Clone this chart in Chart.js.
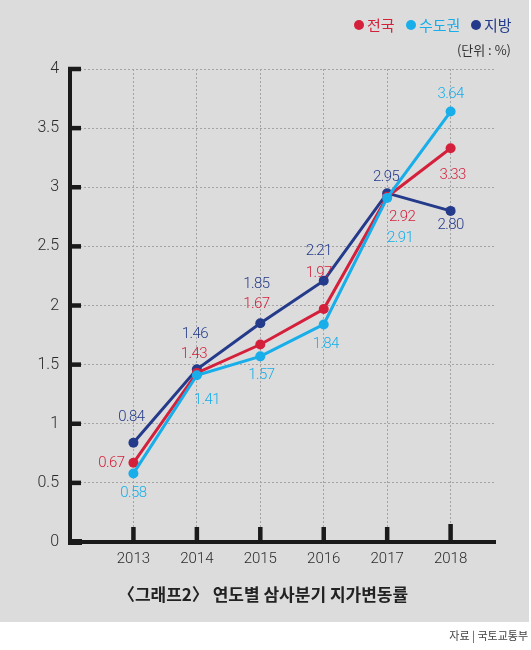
<!DOCTYPE html>
<html>
<head>
<meta charset="utf-8">
<script src="https://cdn.jsdelivr.net/npm/chart.js@4.4.0/dist/chart.umd.min.js"></script>
<style>
  html, body { margin: 0; padding: 0; background: #fff; }
  #wrap { width: 531px; height: 650px; }
</style>
</head>
<body>
<div id="wrap"><canvas id="landChart"></canvas></div>
<script>
// 연도별 삼사분기 지가변동률 (%)
var years = [2013, 2014, 2015, 2016, 2017, 2018];
var nationValues = [0.67, 1.43, 1.67, 1.97, 2.92, 3.33];   // 전국
var capitalValues = [0.58, 1.41, 1.57, 1.84, 2.91, 3.64];  // 수도권
var localValues = [0.84, 1.46, 1.85, 2.21, 2.95, 2.80];    // 지방
var yTicks = [0, 0.5, 1, 1.5, 2, 2.5, 3, 3.5, 4];

var chartTitle = '〈그래프2〉 연도별 삼사분기 지가변동률';
var unitText = '(단위 : %)';
var sourceText = '자료 | 국토교통부';

var RED = '#d5203b';
var SKY = '#17aeea';
var NAVY = '#243a8a';
var KR = '"Noto Sans CJK KR", "Noto Sans", sans-serif';

function toPoints(vals) {
	return vals.map(function(v, i){ return {x: years[i], y: v}; });
}

// grey panel, legend, title, source
var decorPlugin = {
	id: 'decor',
	beforeDraw: function(chart) {
		var ctx = chart.ctx;
		ctx.save();
		ctx.fillStyle = '#fff';
		ctx.fillRect(0, 0, chart.width, chart.height);
		ctx.fillStyle = '#dcdcdd';
		ctx.fillRect(0, 0, 529, 622);
		ctx.restore();
	},
	afterDraw: function(chart) {
		var ctx = chart.ctx;
		ctx.save();
		// legend
		var legendX = [359, 411, 476];
		ctx.font = '15px ' + KR;
		ctx.textBaseline = 'middle';
		ctx.textAlign = 'left';
		chart.data.datasets.forEach(function(ds, i){
			ctx.fillStyle = ds.borderColor;
			ctx.beginPath();
			ctx.arc(legendX[i], 25, 5, 0, Math.PI * 2);
			ctx.fill();
			ctx.fillText(ds.label, legendX[i] + 8, 25);
		});
		ctx.fillStyle = '#333';
		ctx.font = '13px ' + KR;
		ctx.textAlign = 'right';
		ctx.fillText(unitText, 511, 50);
		// title
		ctx.fillStyle = '#222';
		ctx.font = 'bold 17px ' + KR;
		ctx.textAlign = 'center';
		ctx.fillText(chartTitle, 263, 595);
		// source
		ctx.fillStyle = '#444';
		ctx.font = '11px ' + KR;
		ctx.textAlign = 'right';
		ctx.fillText(sourceText, 528, 636);
		ctx.restore();
	}
};

// inward tick marks on both axes
var tickPlugin = {
	id: 'inTicks',
	afterDraw: function(chart) {
		var ctx = chart.ctx;
		var xs = chart.scales.x, ys = chart.scales.y;
		var left = chart.chartArea.left, bottom = chart.chartArea.bottom;
		ctx.save();
		ctx.fillStyle = '#1a1a1a';
		yTicks.forEach(function(v){
			var y = ys.getPixelForValue(v);
			if (v === 0) ctx.fillRect(left - 2, y - 3, 14, 6);
			else ctx.fillRect(left - 2, y - 2.25, 13, 4.5);
		});
		years.forEach(function(yr, i){
			var x = xs.getPixelForValue(yr);
			var h = (i === years.length - 1) ? 18 : 15;
			ctx.fillRect(x - 2.25, bottom - h, 4.5, h);
		});
		ctx.restore();
	}
};

// value labels next to the points
var valueLabelPlugin = {
	id: 'valueLabels',
	afterDatasetsDraw: function(chart) {
		var ctx = chart.ctx;
		ctx.save();
		ctx.font = '300 15px Roboto';
		ctx.letterSpacing = '-0.6px';
		ctx.textAlign = 'center';
		ctx.textBaseline = 'middle';
		chart.data.datasets.forEach(function(ds, di){
			var meta = chart.getDatasetMeta(di);
			ctx.fillStyle = ds.borderColor;
			meta.data.forEach(function(pt, i){
				var off = ds.labelOffsets[i];
				ctx.fillText(ds.data[i].y.toFixed(2), pt.x + off[0], pt.y + off[1]);
			});
		});
		ctx.restore();
	}
};

var ctx = document.getElementById('landChart');
var landChart = new Chart(ctx, {
	type: 'line',
	data: {
		datasets: [{
			label: '전국',
			data: toPoints(nationValues),
			borderColor: RED,
			backgroundColor: RED,
			order: 1,
			labelOffsets: [[-22, 0], [-3, -19], [-4, -40], [-5, -36], [15, 21], [2, 27]]
		}, {
			label: '수도권',
			data: toPoints(capitalValues),
			borderColor: SKY,
			backgroundColor: SKY,
			order: 0,
			labelOffsets: [[0, 20], [10, 25], [1, 19], [2, 20], [13, 40], [0, -17]]
		}, {
			label: '지방',
			data: toPoints(localValues),
			borderColor: NAVY,
			backgroundColor: NAVY,
			order: 2,
			labelOffsets: [[-2, -25], [-2, -35], [-4, -39], [-5, -29], [-1, -16], [0, 14]]
		}]
	},
	options: {
		responsive: true,
		maintainAspectRatio: false,
		animation: false,
		devicePixelRatio: 1,
		layout: { padding: { left: 0, top: 69, right: 36, bottom: 78 } },
		elements: {
			line: { borderWidth: 3, tension: 0 },
			point: { radius: 5, borderWidth: 0, hoverRadius: 5 }
		},
		plugins: {
			legend: { display: false },
			tooltip: { enabled: false }
		},
		scales: {
			x: {
				type: 'linear',
				min: 2012,
				max: 2018.7,
				afterFit: function(s){ s.height = 30; },
				afterBuildTicks: function(s){
					s.ticks = years.map(function(v){ return {value: v}; });
				},
				grid: { color: '#a3a3a3', lineWidth: 1, drawTicks: false },
				border: { color: '#1a1a1a', width: 4, dash: [2, 2] },
				ticks: {
					padding: 8,
					color: '#2b2b2b',
					font: { family: 'Roboto', size: 15, weight: '300' },
					callback: function(v){ return String(v); }
				}
			},
			y: {
				min: 0,
				max: 4,
				afterFit: function(s){ s.width = 70; },
				afterBuildTicks: function(s){
					s.ticks = yTicks.map(function(v){ return {value: v}; });
				},
				grid: { color: '#a3a3a3', lineWidth: 1, drawTicks: false },
				border: { color: '#1a1a1a', width: 4, dash: [2, 2] },
				ticks: {
					padding: 11,
					color: '#2b2b2b',
					font: { family: 'Roboto', size: 16, weight: '300' },
					callback: function(v){ return String(v); }
				}
			}
		}
	},
	plugins: [decorPlugin, tickPlugin, valueLabelPlugin]
});
</script>
</body>
</html>
